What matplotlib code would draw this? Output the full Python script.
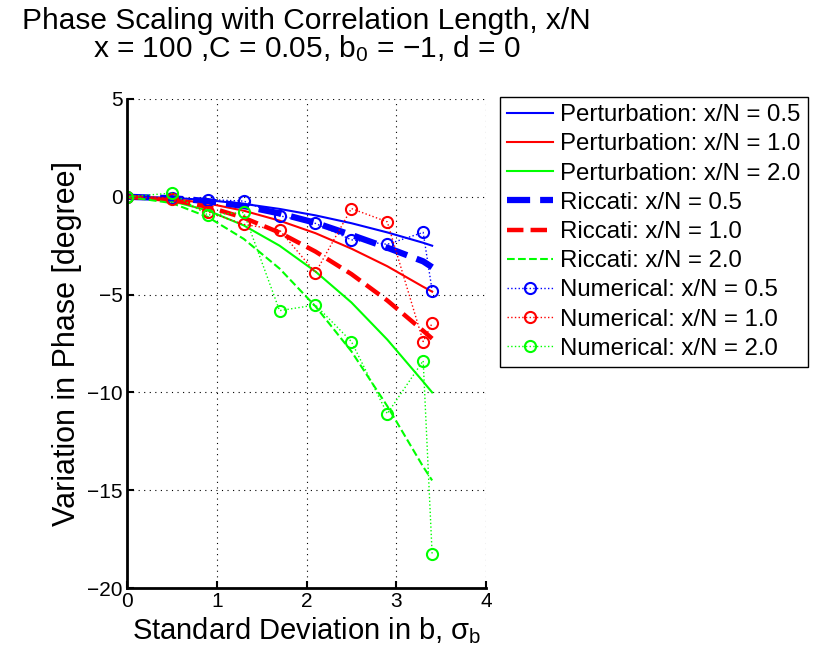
import matplotlib
matplotlib.use("Agg")
import matplotlib.pyplot as plt

plt.rcParams['font.family'] = ['Liberation Sans', 'DejaVu Sans']
plt.rcParams['mathtext.fontset'] = 'custom'
plt.rcParams['mathtext.rm'] = 'Liberation Sans'
plt.rcParams['mathtext.it'] = 'Liberation Sans'

sigma = [0, 0.5, 0.9, 1.3, 1.7, 2.1, 2.5, 2.9, 3.3, 3.4]

pert_05 = [0, -0.05, -0.17, -0.36, -0.62, -0.95, -1.35, -1.82, -2.35, -2.5]
pert_10 = [0, -0.10, -0.34, -0.71, -1.22, -1.86, -2.65, -3.55, -4.60, -4.85]
pert_20 = [0, -0.22, -0.70, -1.46, -2.50, -3.82, -5.40, -7.30, -9.45, -10.0]

ric_05 = [0, -0.07, -0.22, -0.47, -0.85, -1.33, -1.95, -2.60, -3.30, -3.60]
ric_10 = [0, -0.16, -0.51, -1.07, -1.83, -2.80, -3.95, -5.30, -6.85, -7.25]
ric_20 = [0, -0.32, -1.03, -2.15, -3.67, -5.60, -7.90, -10.7, -13.8, -14.5]

num_05 = [0, -0.05, -0.14, -0.22, -0.97, -1.36, -2.20, -2.43, -1.82, -4.80]
num_10 = [0, -0.10, -0.77, -1.41, -1.70, -3.88, -0.60, -1.28, -7.40, -6.46]
num_20 = [0, 0.19, -0.93, -0.80, -5.82, -5.53, -7.40, -11.09, -8.38, -18.28]

labels_xn = ['0.5', '1.0', '2.0']
colors = ['#0000ff', '#ff0000', '#00ff00']

fig = plt.figure(figsize=(8.14, 6.61), dpi=100)
ax = fig.add_axes([127/814, 1-588/661, (486-127)/814, (588-99)/661])

for y, c, l in zip([pert_05, pert_10, pert_20], colors, labels_xn):
    ax.plot(sigma, y, '-', color=c, lw=1.5, label=f'Perturbation: x/N = {l}')
for y, c, l, w in zip([ric_05, ric_10, ric_20], colors, labels_xn, [4.5, 3.2, 1.5]):
    ax.plot(sigma, y, '--', color=c, lw=w, label=f'Riccati: x/N = {l}')
for y, c, l in zip([num_05, num_10, num_20], colors, labels_xn):
    ax.plot(sigma, y, ':', color=c, lw=1.0, marker='o', mfc='none', mec=c,
            mew=1.5, ms=8, label=f'Numerical: x/N = {l}')

ax.set_xlim(0, 4)
ax.set_ylim(-20, 5)
ax.set_xticks([0, 1, 2, 3, 4])
ax.set_yticks([5, 0, -5, -10, -15, -20])
ax.grid(True, linestyle=(0, (1, 4)), color='black', lw=0.8)
ax.spines['top'].set_visible(False)
ax.spines['right'].set_visible(False)
ax.spines['left'].set_linewidth(2)
ax.spines['bottom'].set_linewidth(2)
ax.tick_params(direction='in', length=5, width=1.5, labelsize=15, pad=3)

ax.set_xlabel('Standard Deviation in b, $\\sigma_\\mathrm{b}$', fontsize=21, labelpad=3)
ax.set_ylabel('Variation in Phase [degree]', fontsize=22, labelpad=4)
ax.set_title('Phase Scaling with Correlation Length, x/N\nx = 100 ,C = 0.05, b$_\\mathrm{0}$ = \u22121, d = 0',
             fontsize=21.5, linespacing=0.95, pad=30)

leg = ax.legend(loc='upper left', bbox_to_anchor=(500/814, 1-97/661),
                bbox_transform=fig.transFigure, borderaxespad=0, fontsize=17.3,
                frameon=True, fancybox=False, edgecolor='black', framealpha=1,
                handlelength=1.9, handletextpad=0.3, labelspacing=0.3,
                borderpad=0.3)
leg.get_frame().set_linewidth(1.0)

fig.savefig('out.png', dpi=100)
